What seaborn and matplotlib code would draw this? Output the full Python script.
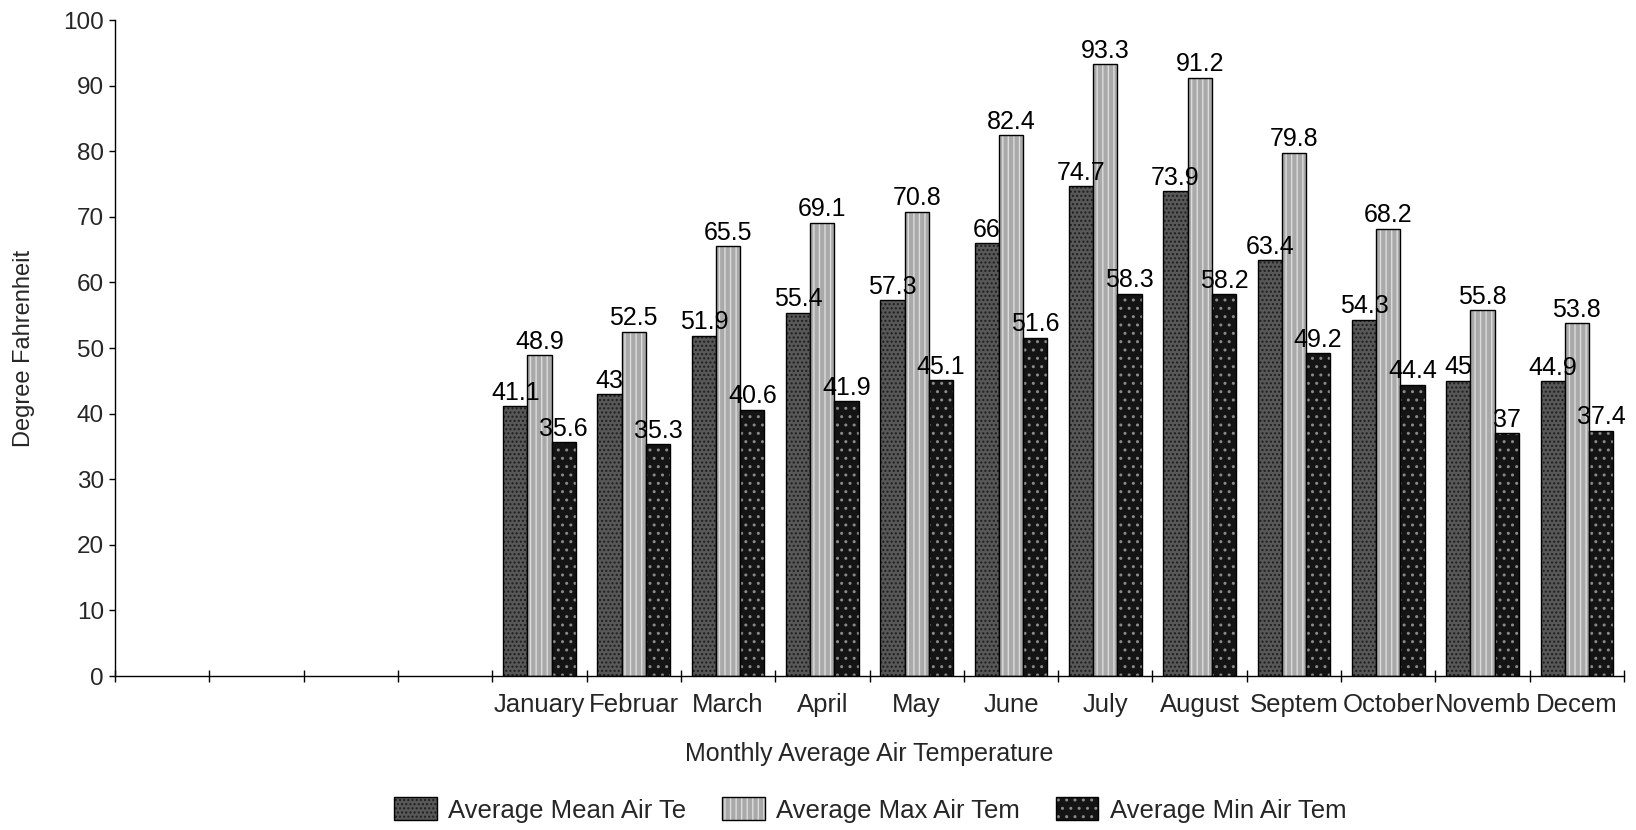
import matplotlib
matplotlib.use("Agg")
import matplotlib.pyplot as plt
from matplotlib.colors import to_rgba
import numpy as np
import pandas as pd
import seaborn as sns

# Monthly air temperature normals (degrees Fahrenheit)
months = ["January", "Februar", "March", "April", "May", "June",
          "July", "August", "Septem", "October", "Novemb", "Decem"]
mean_temp = [41.1, 43, 51.9, 55.4, 57.3, 66, 74.7, 73.9, 63.4, 54.3, 45, 44.9]
max_temp = [48.9, 52.5, 65.5, 69.1, 70.8, 82.4, 93.3, 91.2, 79.8, 68.2, 55.8, 53.8]
min_temp = [35.6, 35.3, 40.6, 41.9, 45.1, 51.6, 58.3, 58.2, 49.2, 44.4, 37, 37.4]
series_names = ["Average Mean Air Te", "Average Max Air Tem", "Average Min Air Tem"]
# four unused category slots precede the months on the axis
blank_slots = [" ", "  ", "   ", "    "]
y_ticks = list(range(0, 101, 10))

df = pd.DataFrame({
    "month": months * 3,
    "series": np.repeat(series_names, len(months)),
    "temp": mean_temp + max_temp + min_temp,
})

sns.set_theme(style="white")
plt.rcParams["font.family"] = ["Liberation Sans", "DejaVu Sans"]
plt.rcParams["hatch.linewidth"] = 1.0

fig = plt.figure(figsize=(16.36, 8.30), dpi=100)
ax = fig.add_axes([0.0703, 0.1855, 0.9224, 0.7904])

face_colors = ["#585858", "#a9a9a9", "#141414"]
hatch_styles = ["....", "|||", ".."]
hatch_colors = ["#1e1e1e", "#dcdcdc", "#8a8a8a"]

sns.barplot(data=df, x="month", y="temp", hue="series",
            order=blank_slots + months, hue_order=series_names,
            palette=face_colors, width=0.77, gap=0, legend=False,
            edgecolor="black", linewidth=1.0, saturation=1, ax=ax)

for cont, vals, hatch, hcol in zip(ax.containers, [mean_temp, max_temp, min_temp],
                                   hatch_styles, hatch_colors):
    for bar in cont.patches:
        bar.set_hatch(hatch)
        bar._hatch_color = to_rgba(hcol)
    ax.bar_label(cont, labels=[f"{v:g}" for v in vals], padding=1,
                 fontsize=18, color="black")

ax.set_ylim(0, 100)
ax.set_xlim(-0.5, len(blank_slots) + len(months) - 0.5)
ax.set_yticks(y_ticks)
ax.tick_params(axis="y", which="major", direction="out", length=4,
               width=1, color="black", left=True, labelsize=17.5, pad=4)
ax.tick_params(axis="x", which="major", length=0, labelsize=18.5, pad=12)
ax.set_xticks(np.arange(-0.5, len(blank_slots) + len(months)), minor=True)
ax.tick_params(axis="x", which="minor", direction="inout", length=9,
               width=1, color="black", bottom=True)

for side in ["top", "right"]:
    ax.spines[side].set_visible(False)
for side in ["left", "bottom"]:
    ax.spines[side].set_color("black")
    ax.spines[side].set_linewidth(1.0)

ax.set_xlabel("Monthly Average Air Temperature", fontsize=18, labelpad=18)
ax.set_ylabel("Degree Fahrenheit", fontsize=17, labelpad=20)

fig.legend(ax.containers, series_names, loc="center",
           bbox_to_anchor=(0.532, 0.024), ncol=3, frameon=False,
           fontsize=18.5, handlelength=1.65, handleheight=1.0,
           handletextpad=0.45, columnspacing=1.4)

fig.savefig("out.png", dpi=100)
